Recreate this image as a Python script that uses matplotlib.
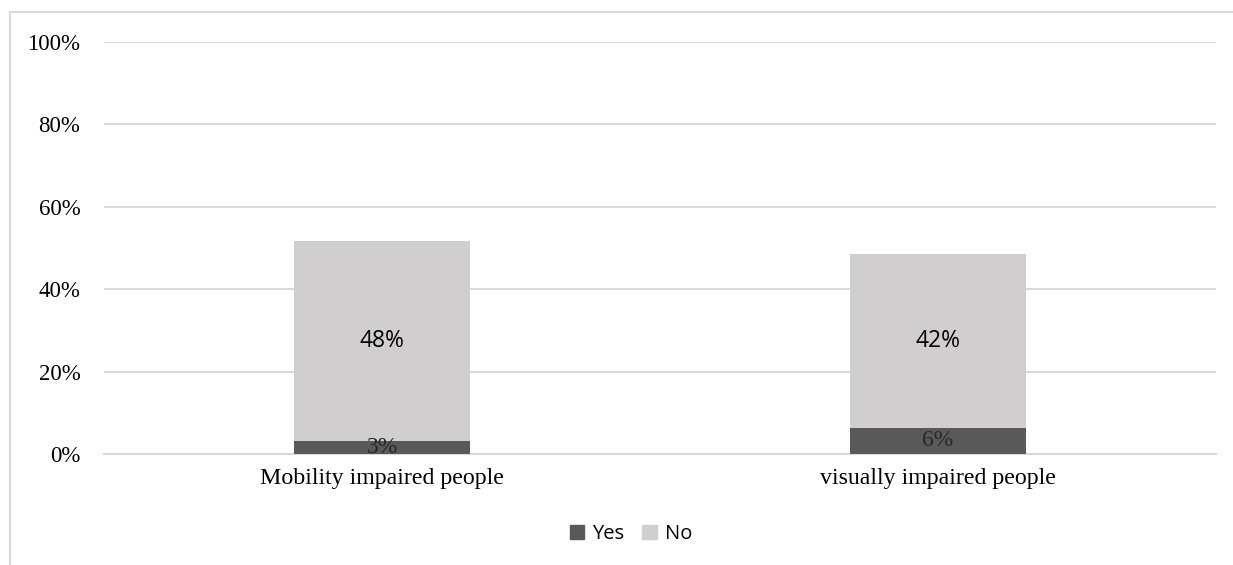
import matplotlib.pyplot as plt
from matplotlib.lines import Line2D
from matplotlib.patches import Patch
from matplotlib.ticker import PercentFormatter

categories = ['Mobility impaired people', 'visually impaired people']
yes_values = [3.2, 6.4]
no_values = [48.5, 42.1]
series_names = ['Yes', 'No']
yes_color = '#595959'
no_color = '#d0cece'

fig = plt.figure(figsize=(12.33, 5.65), dpi=100)
ax = fig.add_axes([104 / 1233, 1 - 454 / 565, 1112 / 1233, 412 / 565])

x = list(range(len(categories)))
bar_w = 0.315
ax.bar(x, yes_values, width=bar_w, color=yes_color, zorder=3)
ax.bar(x, no_values, width=bar_w, bottom=yes_values, color=no_color, zorder=3)

# data labels
for i in x:
    ax.text(i, yes_values[i] / 2, f'{round(yes_values[i]):.0f}%', ha='center', va='center',
            family='Liberation Serif', fontsize=17, color='#262626', zorder=4)
    ax.text(i, yes_values[i] + no_values[i] / 2, f'{round(no_values[i]):.0f}%', ha='center',
            va='center', family='Open Sans', fontsize=16.5, color='black', zorder=4)

ax.set_xlim(-0.5, len(categories) - 0.5)
ax.set_ylim(0, 100)
ax.set_yticks([0, 20, 40, 60, 80, 100])
ax.yaxis.set_major_formatter(PercentFormatter(decimals=0))
ax.set_xticks(x)
ax.set_xticklabels(categories)
for lbl in ax.get_yticklabels():
    lbl.set_family('Liberation Serif')
    lbl.set_fontsize(16.5)
for lbl in ax.get_xticklabels():
    lbl.set_family('Liberation Serif')
    lbl.set_fontsize(17.2)
ax.tick_params(axis='y', length=0, pad=17)
ax.tick_params(axis='x', length=0, pad=10)
ax.grid(axis='y', color='#d9d9d9', linewidth=1.5, zorder=0)
for side in ['top', 'right', 'left']:
    ax.spines[side].set_visible(False)
ax.spines['bottom'].set_color('#d9d9d9')
ax.spines['bottom'].set_linewidth(1.5)

handles = [Patch(color=yes_color), Patch(color=no_color)]
fig.legend(handles, series_names, loc='center', bbox_to_anchor=(631 / 1233, 1 - 534 / 565),
           ncol=2, frameon=False, prop={'family': 'Open Sans', 'size': 14.5},
           handlelength=0.7, handleheight=0.7, handletextpad=0.4, columnspacing=0.9)

# chart border (only top and left visible)
fig.add_artist(Line2D([10 / 1233, 10 / 1233], [0, 1 - 12 / 565], color='#d9d9d9', linewidth=1.5))
fig.add_artist(Line2D([10 / 1233, 1], [1 - 12 / 565, 1 - 12 / 565], color='#d9d9d9', linewidth=1.5))

fig.savefig('out.png', dpi=100)
